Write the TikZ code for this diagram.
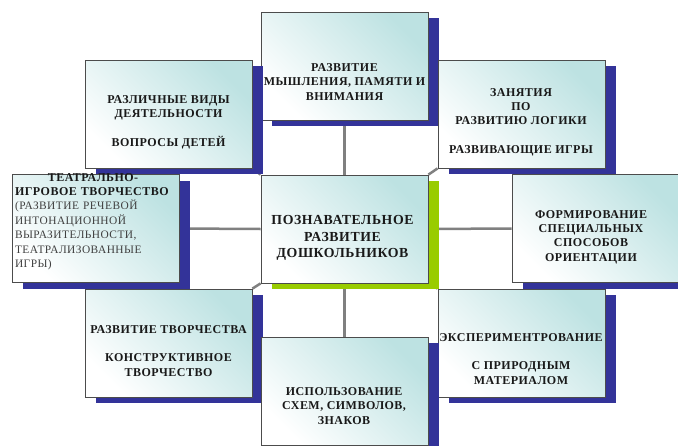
\documentclass[tikz,border=0pt]{standalone}
\usepackage{fontspec}
\setmainfont{Liberation Serif}
\newfontfamily\boxfont[LetterSpace=4]{Liberation Serif}
\usetikzlibrary{shadows,backgrounds}
\definecolor{shblue}{HTML}{333399}
\definecolor{shgreen}{HTML}{99CC00}
\definecolor{boxcyan}{HTML}{BDE2E2}
\definecolor{linegray}{HTML}{808080}
\begin{document}
\begin{tikzpicture}[x=1pt,y=-1pt,
    box/.style={draw=black!70, line width=0.8pt,
        top color=boxcyan, bottom color=white, shading angle=-45,
        minimum width=167pt, minimum height=108pt, inner sep=0pt,
        general shadow={fill=#1, shadow xshift=10.5pt, shadow yshift=-6pt}},
    box/.default=shblue,
    txt/.style={align=center, text=black!90,
        font=\boxfont\bfseries\fontsize{12}{14.4}\selectfont},
    link/.style={draw=linegray, line width=2.5pt}]

    \path[use as bounding box, clip] (0,0) rectangle (678,445);

    % boxes
    \node[box] (top) at (344.5,66) {};
    \node[box] (lefttop) at (168.5,114) {};
    \node[box] (righttop) at (521.5,114) {};
    \node[box=shgreen] (center) at (344.5,229) {};
    \node[box] (leftmid) at (95.5,228.5) {};
    \node[box] (rightmid) at (595.5,228.5) {};
    \node[box] (leftbot) at (168.5,343) {};
    \node[box] (rightbot) at (521.5,343) {};
    \node[box] (bottom) at (344.5,391) {};

    % texts
    \node[txt] (top-t) at (344.5,82) {РАЗВИТИЕ\\ МЫШЛЕНИЯ, ПАМЯТИ И\\ ВНИМАНИЯ};
    \node[txt] (lefttop-t) at (168.5,122) {РАЗЛИЧНЫЕ ВИДЫ\\ ДЕЯТЕЛЬНОСТИ\\[14pt] ВОПРОСЫ ДЕТЕЙ};
    \node[txt] (righttop-t) at (521,122) {ЗАНЯТИЯ\\ ПО\\ РАЗВИТИЮ ЛОГИКИ\\[14pt] РАЗВИВАЮЩИЕ ИГРЫ};
    \node[txt, font=\boxfont\bfseries\fontsize{13.8}{16.7}\selectfont] (center-t) at (342.5,238)
        {ПОЗНАВАТЕЛЬНОЕ\\ РАЗВИТИЕ\\ ДОШКОЛЬНИКОВ};
    \node[txt, text width=156pt, align=left, anchor=west] (leftmid-t) at (11.5,221.5)
        {\makebox[156pt][c]{ТЕАТРАЛЬНО-}\\ ИГРОВОЕ ТВОРЧЕСТВО\\
        {\mdseries\color{black!75}\fontsize{11.4}{14.4}\selectfont
        (РАЗВИТИЕ РЕЧЕВОЙ\\ ИНТОНАЦИОННОЙ\\ ВЫРАЗИТЕЛЬНОСТИ,\\ ТЕАТРАЛИЗОВАННЫЕ\\ ИГРЫ)}};
    \node[txt] (rightmid-t) at (591,237) {ФОРМИРОВАНИЕ\\ СПЕЦИАЛЬНЫХ\\ СПОСОБОВ\\ ОРИЕНТАЦИИ};
    \node[txt] (leftbot-t) at (168.5,351) {РАЗВИТИЕ ТВОРЧЕСТВА\\[14pt] КОНСТРУКТИВНОЕ\\ ТВОРЧЕСТВО};
    \node[txt] (rightbot-t) at (521,359) {ЭКСПЕРИМЕНТРОВАНИЕ\\[14pt] С ПРИРОДНЫМ\\ МАТЕРИАЛОМ};
    \node[txt] (bottom-t) at (344,406) {ИСПОЛЬЗОВАНИЕ\\ СХЕМ, СИМВОЛОВ,\\ ЗНАКОВ};

    % connectors
    \begin{scope}[on background layer]
        \fill[white] (0,0) rectangle (678,445);
        \draw[link] (top) -- (center);
        \draw[link] (center) -- (bottom);
        \draw[link] (leftmid.east) -- (center.west);
        \draw[link] (center.east) -- (rightmid.west);
        \draw[link] (lefttop.south east) -- (center.north west);
        \draw[link] (righttop.south west) -- (center.north east);
        \draw[link] (leftbot.north east) -- (center.south west);
        \draw[link] (rightbot.north west) -- (center.south east);
    \end{scope}
\end{tikzpicture}
\end{document}
